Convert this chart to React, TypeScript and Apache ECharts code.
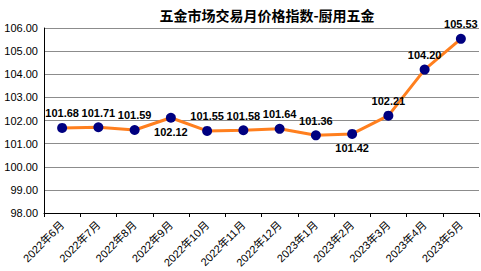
import React, { useEffect, useRef } from "react";
import * as echarts from "echarts";

const title = "五金市场交易月价格指数-厨用五金";
const categories = [
  "2022年6月", "2022年7月", "2022年8月", "2022年9月", "2022年10月", "2022年11月",
  "2022年12月", "2023年1月", "2023年2月", "2023年3月", "2023年4月", "2023年5月",
];
const values = [101.68, 101.71, 101.59, 102.12, 101.55, 101.58, 101.64, 101.36, 101.42, 102.21, 104.2, 105.53];
const labelBelow = [false, false, false, true, false, false, false, false, true, false, false, false];
const yMin = 98;
const yMax = 106;
const yStep = 1;

export default function App() {
  const ref = useRef<HTMLDivElement>(null);
  useEffect(() => {
    if (!ref.current) return;
    const chart = echarts.init(ref.current, null, { renderer: "svg" });
    chart.setOption({
      animation: false,
      backgroundColor: "#ffffff",
      title: {
        text: title,
        left: 262,
        textAlign: "center",
        top: 3,
        textStyle: { fontSize: 14, fontWeight: "bold", color: "#000", fontFamily: "Noto Sans CJK SC" },
      },
      grid: { left: 44, right: 2, top: 28, bottom: 58, containLabel: false },
      xAxis: {
        type: "category",
        data: categories,
        boundaryGap: true,
        axisLine: { lineStyle: { color: "#000", width: 1 } },
        axisTick: { show: true, alignWithLabel: false, length: 4, lineStyle: { color: "#000" } },
        axisLabel: {
          rotate: 45,
          interval: 0,
          fontSize: 11,
          color: "#000",
          margin: 10,
          fontFamily: "Liberation Sans, Noto Sans CJK SC",
        },
      },
      yAxis: {
        type: "value",
        min: yMin,
        max: yMax,
        interval: yStep,
        axisLine: { show: true, lineStyle: { color: "#000", width: 1 } },
        axisTick: { show: false },
        splitLine: { lineStyle: { color: "#8c8c8c", width: 1 } },
        axisLabel: {
          formatter: (v: number) => v.toFixed(2),
          fontSize: 11,
          color: "#000",
          margin: 6,
          fontFamily: "Liberation Sans",
        },
      },
      series: [
        {
          type: "line",
          data: values.map((v, i) => ({
            value: v,
            label: { position: labelBelow[i] ? "bottom" : "top" },
          })),
          symbol: "circle",
          symbolSize: 10,
          itemStyle: { color: "#000080" },
          lineStyle: { color: "#ff7f1e", width: 3 },
          label: {
            show: true,
            formatter: (p: any) => Number(p.value).toFixed(2),
            fontSize: 11,
            fontWeight: "bold",
            color: "#000",
            fontFamily: "Liberation Sans",
            distance: 4,
          },
        },
      ],
    });
    return () => chart.dispose();
  }, []);
  return <div ref={ref} style={{ width: 481, height: 271, position: "absolute", left: 0, top: 0 }} />;
}
